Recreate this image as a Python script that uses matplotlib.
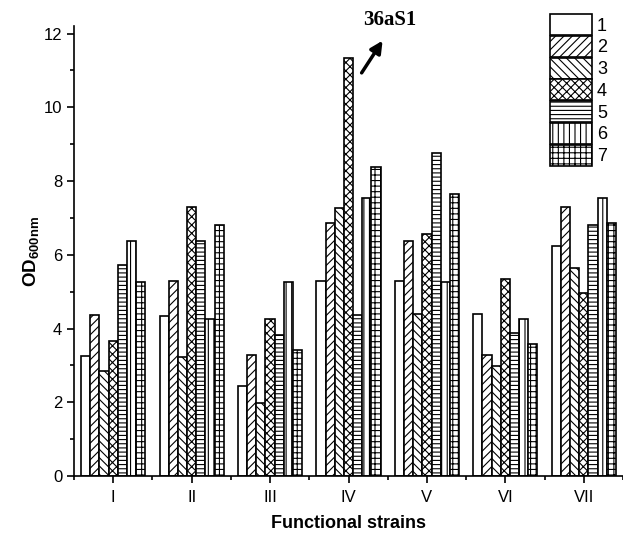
import matplotlib
matplotlib.use("Agg")
import matplotlib.pyplot as plt
from matplotlib.patches import Patch
from matplotlib.ticker import MultipleLocator
import numpy as np

# OD600 of functional strains, 7 replicate isolates per group
strains = ["I", "II", "III", "IV", "V", "VI", "VII"]
series_labels = ["1", "2", "3", "4", "5", "6", "7"]
od_I = [3.25, 4.38, 2.85, 3.65, 5.72, 6.38, 5.25]
od_II = [4.35, 5.30, 3.22, 7.30, 6.38, 4.25, 6.80]
od_III = [2.45, 3.28, 1.97, 4.25, 3.82, 5.25, 3.43]
od_IV = [5.28, 6.85, 7.28, 11.33, 4.38, 7.53, 8.37]
od_V = [5.28, 6.37, 4.39, 6.57, 8.75, 5.25, 7.65]
od_VI = [4.39, 3.28, 2.98, 5.33, 3.87, 4.25, 3.57]
od_VII = [6.25, 7.30, 5.65, 4.96, 6.80, 7.55, 6.85]
hatches = ["", "////", "\\\\\\\\", "xxxx", "----", "|||", "+++"]

plt.rcParams["font.family"] = ["Liberation Sans", "DejaVu Sans"]
plt.rcParams["mathtext.fontset"] = "custom"
plt.rcParams["mathtext.rm"] = "Liberation Sans"
plt.rcParams["mathtext.bf"] = "Liberation Sans:bold"
plt.rcParams["hatch.linewidth"] = 0.8

data = np.array([od_I, od_II, od_III, od_IV, od_V, od_VI, od_VII])

fig = plt.figure(figsize=(6.23, 5.45), dpi=100)
ax = fig.add_axes([0.1188, 0.1266, 0.8812, 0.8254])

x = np.arange(1, len(strains) + 1)
width = 0.117
for j in range(len(series_labels)):
    ax.bar(x + (j - 3) * width, data[:, j], width, color="white",
           edgecolor="black", linewidth=1.2, hatch=hatches[j])

ax.set_xlim(0.5, 7.5)
ax.set_ylim(0, 12.2)
ax.set_xticks(x)
ax.set_xticklabels(strains)
ax.xaxis.set_minor_locator(MultipleLocator(1, offset=0.5))
ax.yaxis.set_major_locator(MultipleLocator(2))
ax.yaxis.set_minor_locator(MultipleLocator(1))
ax.tick_params(which="major", direction="out", length=5, width=1.2, labelsize=12)
ax.tick_params(which="minor", direction="out", length=3, width=1.2)
ax.tick_params(axis="x", pad=5)

for side in ["top", "right"]:
    ax.spines[side].set_visible(False)
for side in ["left", "bottom"]:
    ax.spines[side].set_linewidth(1.2)

ax.set_xlabel("Functional strains", fontsize=13, fontweight="bold", labelpad=7)
ax.set_ylabel(r"OD$_{\mathbf{600nm}}$", fontsize=13.5, fontweight="bold", labelpad=1)

# mark the best strain
ax.annotate("", xy=(4.454, 11.87), xytext=(4.148, 10.87),
            arrowprops=dict(arrowstyle="-|>", lw=2.5, color="black", mutation_scale=18))
ax.text(4.186, 12.1, "36aS1", fontsize=15, fontweight="bold",
        family="Liberation Serif", ha="left", va="bottom")

handles = [Patch(facecolor="white", edgecolor="black", linewidth=1.2, hatch=h)
           for h in hatches]
fig.legend(handles, series_labels, loc="upper left", bbox_to_anchor=(0.883, 0.974),
           frameon=False, fontsize=13, handlelength=2.3, handleheight=1.4,
           labelspacing=0.05, handletextpad=0.3, borderpad=0, borderaxespad=0)

fig.savefig("out.png", dpi=100)
